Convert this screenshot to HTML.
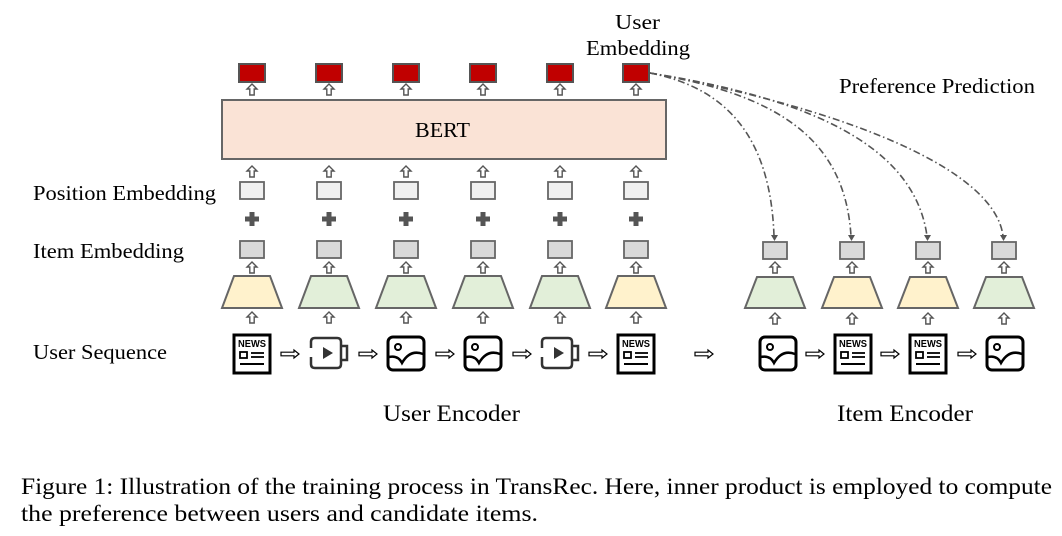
<!DOCTYPE html>
<html><head><meta charset="utf-8"><style>
html,body{margin:0;padding:0;background:#fff;}
svg{display:block;}
text{font-family:"Liberation Serif",serif;fill:#000;}
</style></head><body>
<svg width="1062" height="536" viewBox="0 0 1062 536" xmlns="http://www.w3.org/2000/svg">
<defs>
<g id="up"><path d="M0,-6 L5,-1 L2.2,-1 L2.2,5 L-2.2,5 L-2.2,-1 L-5,-1 Z" fill="#fff" stroke="#555" stroke-width="1.4"/></g>
<g id="plus"><path d="M-2.5,-7 h5 v4.5 h4.5 v5 h-4.5 v4.5 h-5 v-4.5 h-4.5 v-5 h4.5 z" fill="#555"/></g>
<g id="news">
<rect x="-18" y="-19" width="36" height="38" fill="#fff" stroke="#000" stroke-width="3"/>
<text x="0" y="-7" font-weight="bold" font-size="10" text-anchor="middle" textLength="28" lengthAdjust="spacingAndGlyphs" style="font-family:'Liberation Sans',sans-serif">NEWS</text>
<rect x="-12" y="-2" width="7" height="6" fill="none" stroke="#000" stroke-width="1.8"/>
<line x1="-1" y1="-1" x2="12" y2="-1" stroke="#000" stroke-width="1.8"/>
<line x1="-1" y1="3" x2="12" y2="3" stroke="#000" stroke-width="1.8"/>
<line x1="-12" y1="10" x2="12" y2="10" stroke="#000" stroke-width="2"/>
</g>
<g id="img">
<rect x="-18" y="-16" width="36" height="33" rx="5" fill="#fff" stroke="#000" stroke-width="3"/>
<circle cx="-8" cy="-6" r="3" fill="none" stroke="#000" stroke-width="2"/>
<path d="M-17,4 Q-8,2 -4,10 Q4,-4 17,1" fill="none" stroke="#000" stroke-width="2.5"/>
</g>
<g id="vid">
<path d="M-16,-5 V-11 Q-16,-15 -12,-15 H10 Q14,-15 14,-11 V11 Q14,15 10,15 H-12 Q-16,15 -16,11 V4" fill="none" stroke="#333" stroke-width="2.5"/>
<path d="M14,-7 H20 V7 H14" fill="none" stroke="#333" stroke-width="2.5"/>
<path d="M-4,-6 L6,0 L-4,6 Z" fill="#333"/>
</g>
<g id="arr"><path d="M-9,-1.8 H4 V-4 L9,0 L4,4 V1.8 H-9 Z" fill="#fff" stroke="#000" stroke-width="1.2"/></g>
</defs>

<text x="615" y="29" font-size="21" textLength="45" lengthAdjust="spacingAndGlyphs">User</text>
<text x="586" y="55" font-size="21" textLength="104" lengthAdjust="spacingAndGlyphs">Embedding</text>
<text x="839" y="93" font-size="21" textLength="196" lengthAdjust="spacingAndGlyphs">Preference Prediction</text>

<rect x="222" y="100" width="444" height="59" fill="#fae3d6" stroke="#666" stroke-width="2"/>
<text x="415" y="137" font-size="21" textLength="55" lengthAdjust="spacingAndGlyphs">BERT</text>

<text x="33" y="200" font-size="21" textLength="183" lengthAdjust="spacingAndGlyphs">Position Embedding</text>
<text x="33" y="258" font-size="21" textLength="151" lengthAdjust="spacingAndGlyphs">Item Embedding</text>
<text x="33" y="359" font-size="21" textLength="134" lengthAdjust="spacingAndGlyphs">User Sequence</text>
<text x="383" y="421" font-size="23" textLength="137" lengthAdjust="spacingAndGlyphs">User Encoder</text>
<text x="837" y="421" font-size="23" textLength="136" lengthAdjust="spacingAndGlyphs">Item Encoder</text>
<text x="21" y="494" font-size="23" textLength="1031" lengthAdjust="spacingAndGlyphs">Figure 1: Illustration of the training process in TransRec. Here, inner product is employed to compute</text>
<text x="21" y="521" font-size="23" textLength="517" lengthAdjust="spacingAndGlyphs">the preference between users and candidate items.</text>

<g stroke="#555" stroke-width="2">
<rect x="239" y="64" width="26" height="18" fill="#c00000"/>
<rect x="316" y="64" width="26" height="18" fill="#c00000"/>
<rect x="393" y="64" width="26" height="18" fill="#c00000"/>
<rect x="470" y="64" width="26" height="18" fill="#c00000"/>
<rect x="547" y="64" width="26" height="18" fill="#c00000"/>
<rect x="623" y="64" width="26" height="18" fill="#c00000"/>
</g>
<g>
<use href="#up" x="252" y="90"/><use href="#up" x="329" y="90"/><use href="#up" x="406" y="90"/><use href="#up" x="483" y="90"/><use href="#up" x="560" y="90"/><use href="#up" x="636" y="90"/>
<use href="#up" x="252" y="172"/><use href="#up" x="329" y="172"/><use href="#up" x="406" y="172"/><use href="#up" x="483" y="172"/><use href="#up" x="560" y="172"/><use href="#up" x="636" y="172"/>
<use href="#plus" x="252" y="219"/><use href="#plus" x="329" y="219"/><use href="#plus" x="406" y="219"/><use href="#plus" x="483" y="219"/><use href="#plus" x="560" y="219"/><use href="#plus" x="636" y="219"/>
<use href="#up" x="252" y="268"/><use href="#up" x="329" y="268"/><use href="#up" x="406" y="268"/><use href="#up" x="483" y="268"/><use href="#up" x="560" y="268"/><use href="#up" x="636" y="268"/>
<use href="#up" x="252" y="318"/><use href="#up" x="329" y="318"/><use href="#up" x="406" y="318"/><use href="#up" x="483" y="318"/><use href="#up" x="560" y="318"/><use href="#up" x="636" y="318"/>
</g>
<g stroke="#666" stroke-width="1.8">
<rect x="240" y="182" width="24" height="17" fill="#f0f0f0"/><rect x="317" y="182" width="24" height="17" fill="#f0f0f0"/><rect x="394" y="182" width="24" height="17" fill="#f0f0f0"/><rect x="471" y="182" width="24" height="17" fill="#f0f0f0"/><rect x="548" y="182" width="24" height="17" fill="#f0f0f0"/><rect x="624" y="182" width="24" height="17" fill="#f0f0f0"/>
<rect x="240" y="241" width="24" height="17" fill="#d9d9d9"/><rect x="317" y="241" width="24" height="17" fill="#d9d9d9"/><rect x="394" y="241" width="24" height="17" fill="#d9d9d9"/><rect x="471" y="241" width="24" height="17" fill="#d9d9d9"/><rect x="548" y="241" width="24" height="17" fill="#d9d9d9"/><rect x="624" y="241" width="24" height="17" fill="#d9d9d9"/>
<rect x="763" y="242" width="24" height="17" fill="#d9d9d9"/><rect x="840" y="242" width="24" height="17" fill="#d9d9d9"/><rect x="916" y="242" width="24" height="17" fill="#d9d9d9"/><rect x="992" y="242" width="24" height="17" fill="#d9d9d9"/>
</g>
<g stroke="#666" stroke-width="2">
<path d="M234,276 H270 L282,308 H222 Z" fill="#fff2cc"/>
<path d="M234,276 H270 L282,308 H222 Z" fill="#e2efd9" transform="translate(77,0)"/>
<path d="M234,276 H270 L282,308 H222 Z" fill="#e2efd9" transform="translate(154,0)"/>
<path d="M234,276 H270 L282,308 H222 Z" fill="#e2efd9" transform="translate(231,0)"/>
<path d="M234,276 H270 L282,308 H222 Z" fill="#e2efd9" transform="translate(308,0)"/>
<path d="M234,276 H270 L282,308 H222 Z" fill="#fff2cc" transform="translate(384,0)"/>
<path d="M234,277 H270 L282,308 H222 Z" fill="#e2efd9" transform="translate(523,0)"/>
<path d="M234,277 H270 L282,308 H222 Z" fill="#fff2cc" transform="translate(600,0)"/>
<path d="M234,277 H270 L282,308 H222 Z" fill="#fff2cc" transform="translate(676,0)"/>
<path d="M234,277 H270 L282,308 H222 Z" fill="#e2efd9" transform="translate(752,0)"/>
</g>
<g>
<use href="#up" x="775" y="268"/><use href="#up" x="852" y="268"/><use href="#up" x="928" y="268"/><use href="#up" x="1004" y="268"/>
<use href="#up" x="775" y="319"/><use href="#up" x="852" y="319"/><use href="#up" x="928" y="319"/><use href="#up" x="1004" y="319"/>
</g>
<use href="#news" x="252" y="354"/>
<use href="#vid" x="327" y="353"/>
<use href="#img" x="406" y="353"/>
<use href="#img" x="483" y="353"/>
<use href="#vid" x="558" y="353"/>
<use href="#news" x="636" y="354"/>
<use href="#img" x="778" y="353"/>
<use href="#news" x="853" y="354"/>
<use href="#news" x="928" y="354"/>
<use href="#img" x="1005" y="353"/>
<use href="#arr" x="290" y="354"/>
<use href="#arr" x="368" y="354"/>
<use href="#arr" x="445" y="354"/>
<use href="#arr" x="522" y="354"/>
<use href="#arr" x="598" y="354"/>
<use href="#arr" x="704" y="354"/>
<use href="#arr" x="815" y="354"/>
<use href="#arr" x="890" y="354"/>
<use href="#arr" x="967" y="354"/>
<g fill="none" stroke="#555" stroke-width="1.6" stroke-dasharray="7,3,1.5,3">
<path d="M650,73 C710,85 770,120 774,236"/>
<path d="M650,73 C780,95 845,140 851,236"/>
<path d="M650,73 C820,100 915,150 927,236"/>
<path d="M650,73 C850,110 995,170 1003,236"/>
</g>
<g fill="#555">
<path d="M771,235 L778,235 L774.5,241 Z"/>
<path d="M848,235 L855,235 L851.5,241 Z"/>
<path d="M924,235 L931,235 L927.5,241 Z"/>
<path d="M1000,235 L1007,235 L1003.5,241 Z"/>
</g>
</svg>
</body></html>
